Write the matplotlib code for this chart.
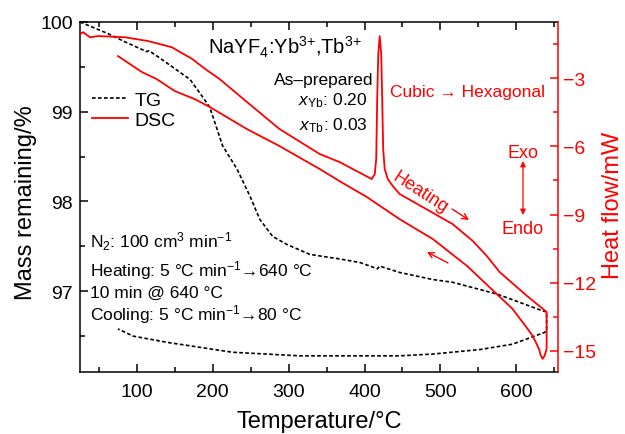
import numpy as np
import matplotlib
matplotlib.use("Agg")
import matplotlib.pyplot as plt
from matplotlib.ticker import MultipleLocator

plt.rcParams['font.family'] = ['Liberation Sans', 'DejaVu Sans']
plt.rcParams['mathtext.fontset'] = 'custom'
plt.rcParams['mathtext.rm'] = 'Liberation Sans'
plt.rcParams['mathtext.it'] = 'Liberation Sans:italic'
plt.rcParams['mathtext.bf'] = 'Liberation Sans:bold'
plt.rcParams['axes.unicode_minus'] = True

# ---------------- data ----------------
tg_heat_T = [25, 45, 62, 84, 105, 113, 116, 130, 150, 170, 187, 196, 213, 232, 249,
             262, 279, 298, 328, 367, 394, 417, 420, 446, 490, 516, 574, 600, 635, 640, 640]
tg_heat_m = [100.00, 99.93, 99.87, 99.78, 99.70, 99.67, 99.68, 99.60, 99.48, 99.36, 99.16,
             99.05, 98.62, 98.36, 98.06, 97.80, 97.61, 97.52, 97.41, 97.36, 97.32, 97.25,
             97.28, 97.21, 97.13, 97.10, 96.97, 96.89, 96.78, 96.77, 96.56]
tg_cool_T = [637, 595, 552, 490, 446, 315, 226, 140, 95, 75]
tg_cool_m = [96.54, 96.41, 96.35, 96.30, 96.28, 96.28, 96.32, 96.43, 96.50, 96.58]

dsc_heat_T = [25, 29, 38, 49, 84, 115, 146, 173, 190, 209, 245, 288, 341, 367, 409.5,
              413.5, 415.4, 416.7, 418.1, 420, 422, 423.3, 424.6, 426.6, 430.6, 437.2,
              446.4, 516, 542.5, 561, 578, 614, 635, 640]
dsc_heat_hf = [-1.07, -0.98, -1.20, -1.15, -1.20, -1.37, -1.64, -2.16, -2.60, -3.04,
               -4.05, -5.24, -6.34, -6.69, -7.44, -7.22, -6.56, -3.92, -1.95, -1.15,
               -1.95, -3.92, -6.12, -7.00, -7.44, -7.75, -8.10, -9.42, -10.16, -10.82,
               -11.53, -12.58, -13.15, -13.29]
dsc_cool_T = [640, 640, 637.3, 634.7, 632, 630.7, 626.8, 621.5, 614.9, 595, 574, 535,
              490, 446, 403, 367, 341, 288, 245, 196, 176, 150, 126, 107, 75]
dsc_cool_hf = [-14.03, -14.91, -15.22, -15.35, -15.18, -15.0, -14.69, -14.34, -14.03,
               -13.15, -12.49, -11.26, -10.08, -9.20, -8.23, -7.53, -7.00, -5.99, -5.24,
               -4.27, -3.92, -3.57, -3.04, -2.74, -2.03]

x_ticks = [100, 200, 300, 400, 500, 600]
left_ticks = [97, 98, 99, 100]
right_ticks = [-15, -12, -9, -6, -3]

RED = '#ff0000'

# ---------------- figure ----------------
W, H = 625, 435
fig = plt.figure(figsize=(W / 100, H / 100), dpi=100)
L, R, T, B = 80, 558, 23, 373
ax = fig.add_axes([L / W, 1 - B / H, (R - L) / W, (B - T) / H])
ax2 = ax.twinx()

def fx(px):
    return px / W

def fy(py):
    return 1 - py / H

tgT = tg_heat_T + tg_cool_T
tgm = tg_heat_m + tg_cool_m
l_tg, = ax.plot(tgT, tgm, color='black', lw=1.2, ls=(0, (2.2, 1.4)), label='TG')
l_dsc, = ax2.plot(dsc_heat_T + dsc_cool_T, dsc_heat_hf + dsc_cool_hf, color=RED, lw=1.3,
                  label='DSC')

ax.set_xlim(25, 655)
ax.set_ylim(96.1, 100)
ax2.set_ylim(-15.93, -0.53)

ax.set_xticks(x_ticks)
ax.set_yticks(left_ticks)
ax2.set_yticks(right_ticks)
ax.xaxis.set_minor_locator(MultipleLocator(50))
ax.yaxis.set_minor_locator(MultipleLocator(0.5))
ax2.yaxis.set_minor_locator(MultipleLocator(1.5))

for s in ax.spines.values():
    s.set_linewidth(1.1)
ax.spines['right'].set_visible(False)
for k in ['left', 'top', 'bottom']:
    ax2.spines[k].set_visible(False)
ax2.spines['right'].set_color(RED)
ax2.spines['right'].set_linewidth(1.1)

ax.tick_params(axis='both', which='both', direction='in', top=True, right=False,
               width=1.1, labelsize=14)
ax.tick_params(which='major', length=5.5)
ax.tick_params(which='minor', length=3.5)
ax.tick_params(axis='x', pad=8)
ax.tick_params(axis='y', pad=5)
ax2.tick_params(axis='y', which='both', direction='in', colors=RED, width=1.1,
                labelsize=14, pad=3.5)
ax2.tick_params(which='major', length=5.5)
ax2.tick_params(which='minor', length=3.5)

ax.set_xlabel('Temperature/°C', fontsize=17)
ax.xaxis.label.set_va('baseline')
ax.xaxis.set_label_coords(0.5, (B - 428) / (B - T))

ax.set_ylabel('Mass remaining/%', fontsize=17)
ax.yaxis.label.set_rotation_mode('anchor')
ax.yaxis.label.set_va('baseline')
ax.yaxis.label.set_ha('center')
ax.yaxis.set_label_coords((32 - L) / (R - L), (B - 203) / (B - T))

ax2.set_ylabel('Heat flow/mW', fontsize=17, color=RED, rotation=90)
ax2.yaxis.label.set_rotation_mode('anchor')
ax2.yaxis.label.set_va('baseline')
ax2.yaxis.label.set_ha('center')
ax2.yaxis.set_label_coords((619 - L) / (R - L), (B - 205) / (B - T))

ax.legend(handles=[l_tg, l_dsc], loc='upper left',
          bbox_to_anchor=((92 - L) / (R - L), (B - 92) / (B - T)),
          frameon=False, fontsize=14, handlelength=1.85, handletextpad=0.35,
          borderpad=0, borderaxespad=0, labelspacing=0.12)

# ---------------- annotations ----------------
fig.text(fx(208), fy(55), r'NaYF$_4$:Yb$^{3{+}}$,Tb$^{3{+}}$', fontsize=14.5,
         va='baseline', ha='left')
fig.text(fx(373), fy(85), 'As–prepared', fontsize=12.5, va='baseline', ha='right')
fig.text(fx(368), fy(105), r'$x_{\mathrm{Yb}}$: 0.20', fontsize=12.5, va='baseline',
         ha='right')
fig.text(fx(368), fy(130), r'$x_{\mathrm{Tb}}$: 0.03', fontsize=12.5, va='baseline',
         ha='right')

fig.text(fx(468), fy(92), 'Cubic → Hexagonal', fontsize=12.5, color=RED,
         va='center', ha='center')

fig.text(fx(420), fy(193), 'Heating', fontsize=13, color=RED, rotation=-33,
         va='center', ha='center', rotation_mode='anchor')
ax.annotate('', xy=(fx(469), fy(221)), xycoords='figure fraction',
            xytext=(fx(452), fy(210)), textcoords='figure fraction',
            arrowprops=dict(arrowstyle='->', color=RED, lw=1.0, shrinkA=0, shrinkB=0))
ax.annotate('', xy=(fx(427), fy(253)), xycoords='figure fraction',
            xytext=(fx(448), fy(264)), textcoords='figure fraction',
            arrowprops=dict(arrowstyle='->', color=RED, lw=1.0, shrinkA=0, shrinkB=0))

fig.text(fx(523), fy(153), 'Exo', fontsize=13, color=RED, va='center', ha='center')
fig.text(fx(523), fy(230), 'Endo', fontsize=13, color=RED, va='center', ha='center')
ax.annotate('', xy=(fx(523), fy(162)), xycoords='figure fraction',
            xytext=(fx(523), fy(216)), textcoords='figure fraction',
            arrowprops=dict(arrowstyle='<|-|>', color=RED, lw=0.9, shrinkA=0, shrinkB=0,
                            mutation_scale=8))

fig.text(fx(90), fy(248), r'N$_2$: 100 cm$^3$ min$^{-1}$', fontsize=12.5,
         va='baseline', ha='left')
fig.text(fx(90), fy(276), r'Heating: 5 °C min$^{-1}$→640 °C', fontsize=12.5,
         va='baseline', ha='left')
fig.text(fx(90), fy(298), '10 min @ 640 °C', fontsize=12.5, va='baseline', ha='left')
fig.text(fx(90), fy(320), r'Cooling: 5 °C min$^{-1}$→80 °C', fontsize=12.5,
         va='baseline', ha='left')

fig.savefig('out.png', dpi=100)
